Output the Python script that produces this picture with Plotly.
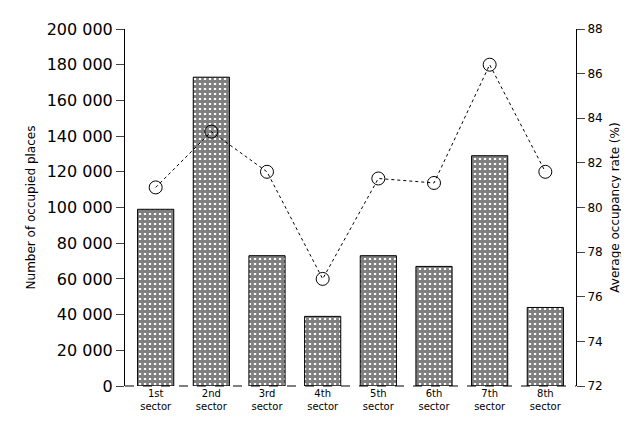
import plotly.graph_objects as go

categories = ["1st<br>sector", "2nd<br>sector", "3rd<br>sector", "4th<br>sector",
              "5th<br>sector", "6th<br>sector", "7th<br>sector", "8th<br>sector"]
occupied_places = [99000, 173000, 73000, 39000, 73000, 67000, 129000, 44000]
occupancy_rate = [80.9, 83.4, 81.6, 76.8, 81.3, 81.1, 86.4, 81.6]

left_ticks = [0, 20000, 40000, 60000, 80000, 100000, 120000, 140000, 160000, 180000, 200000]
right_ticks = [72, 74, 76, 78, 80, 82, 84, 86, 88]

fig = go.Figure()
fig.add_trace(go.Bar(
    x=categories, y=occupied_places, name="Number of occupied places",
    marker=dict(color="white", line=dict(color="black", width=1),
                pattern=dict(shape="+", fgcolor="black", bgcolor="white", size=5, solidity=0.8)),
    yaxis="y",
))
fig.add_trace(go.Scatter(
    x=categories, y=occupancy_rate, name="Average occupancy rate",
    mode="lines+markers",
    line=dict(color="black", width=1, dash="dot"),
    marker=dict(symbol="circle-open", size=13, color="black", line=dict(width=1)),
    yaxis="y2",
))

fig.update_layout(
    width=629, height=430,
    margin=dict(l=117, r=61, t=17, b=52),
    paper_bgcolor="white", plot_bgcolor="white",
    showlegend=False,
    bargap=0.35,
    separators=". ",
    font=dict(family="DejaVu Sans, sans-serif", size=11, color="black"),
    xaxis=dict(showline=False, ticks="", tickfont=dict(size=10)),
    yaxis=dict(range=[0, 200000], tickvals=left_ticks, tickformat=",d",
               tickfont=dict(size=16),
               showline=True, linecolor="black", linewidth=1, ticks="outside", ticklen=8,
               showgrid=False, zeroline=False,
               title=dict(text="Number of occupied places", font=dict(size=12), standoff=8)),
    yaxis2=dict(range=[72, 88], tickvals=right_ticks, overlaying="y", side="right",
                tickfont=dict(size=12),
                showline=True, linecolor="black", linewidth=1, ticks="outside", ticklen=8,
                showgrid=False, zeroline=False,
                title=dict(text="Average occupancy rate (%)", font=dict(size=12), standoff=8)),
)
fig.add_shape(type="line", xref="paper", yref="paper", x0=0, x1=1, y0=0, y1=0,
              line=dict(color="black", width=1, dash="dash"))

fig.write_html("out.html")
